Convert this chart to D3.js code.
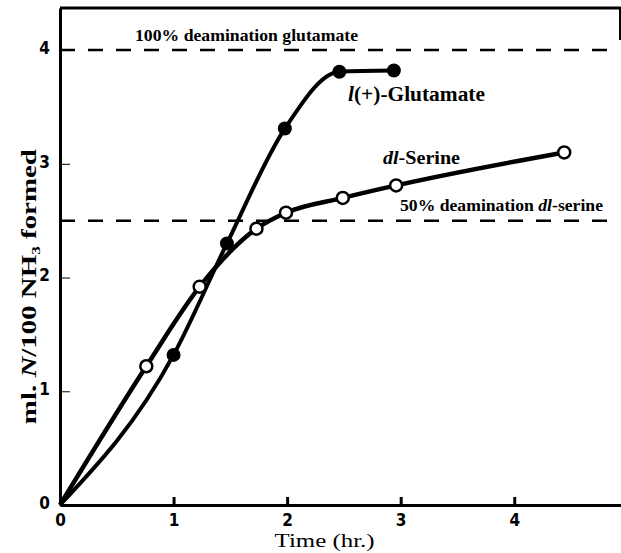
<!DOCTYPE html>
<html>
<head>
<meta charset="utf-8">
<script src="https://cdn.jsdelivr.net/npm/d3@7"></script>
<style>
  body { margin: 0; background: #fff; }
  text { fill: #000; }
  .lbl { font-family: "Liberation Serif", "DejaVu Serif", serif; font-weight: bold; }
  .tick text { font-family: "DejaVu Sans Condensed", "DejaVu Sans", sans-serif; font-weight: bold; font-size: 17px; }
</style>
</head>
<body>
<div id="graphic"></div>
<script>
// glutamate (filled) and serine (open) readings
var glutTime = [0, 1.0, 1.47, 1.98, 2.46, 2.94];
var glutNH3  = [0, 1.32, 2.30, 3.31, 3.81, 3.82];
var serTime  = [0, 0.76, 1.23, 1.73, 1.99, 2.49, 2.96, 4.44];
var serNH3   = [0, 1.22, 1.92, 2.43, 2.57, 2.70, 2.81, 3.10];
var xTicks = [0, 1, 2, 3, 4];
var yTicks = [0, 1, 2, 3, 4];
var refLevels = [4.0, 2.5];

var W = 621, H = 553;
var margin = { top: 8, right: 0, bottom: 48, left: 60 };
var width = W - margin.left - margin.right,
    height = H - margin.top - margin.bottom;

var x = d3.scaleLinear().domain([0, 4.94]).range([0, width]);
var y = d3.scaleLinear().domain([0, 4.37]).range([height, 0]);

var svg = d3.select("#graphic").append("svg")
    .attr("width", W)
    .attr("height", H)
    .append("g")
    .attr("transform", "translate(" + margin.left + "," + margin.top + ")");

// frame top + right
svg.append("line").attr("x1", 0).attr("x2", width).attr("y1", 0).attr("y2", 0)
    .attr("stroke", "#000").attr("stroke-width", 3);
svg.append("line").attr("x1", width - 1).attr("x2", width - 1).attr("y1", 0).attr("y2", 32)
    .attr("stroke", "#000").attr("stroke-width", 2);

// dashed reference lines
svg.selectAll(null)
    .data(refLevels)
    .enter()
    .append("line")
    .attr("x1", 0)
    .attr("x2", width - 8)
    .attr("y1", function(d) { return y(d); })
    .attr("y2", function(d) { return y(d); })
    .attr("stroke", "#000")
    .attr("stroke-width", 2.5)
    .attr("stroke-dasharray", "15,13");

// axes
var xAxis = svg.append("g")
    .attr("transform", "translate(0," + height + ")")
    .call(d3.axisBottom(x).tickValues(xTicks).tickSizeInner(-8).tickSizeOuter(0).tickPadding(9).tickFormat(d3.format("d")));
xAxis.select(".domain").attr("stroke-width", 3);
xAxis.selectAll(".tick line").attr("stroke-width", 3);

var yAxis = svg.append("g")
    .call(d3.axisLeft(y).tickValues(yTicks).tickSizeInner(-10).tickSizeOuter(0).tickPadding(12).tickFormat(d3.format("d")));
yAxis.select(".domain").attr("stroke-width", 3);
yAxis.selectAll(".tick text").attr("dx", 2).attr("dy", "0.2em");

// curves
var glut = glutTime.map(function(t, i) { return [t, glutNH3[i]]; });
var ser = serTime.map(function(t, i) { return [t, serNH3[i]]; });

var line = d3.line()
    .x(function(d) { return x(d[0]); })
    .y(function(d) { return y(d[1]); })
    .curve(d3.curveMonotoneX);

svg.append("path").datum(glut).attr("d", line)
    .attr("fill", "none").attr("stroke", "#000").attr("stroke-width", 4);
svg.append("path").datum(ser).attr("d", line)
    .attr("fill", "none").attr("stroke", "#000").attr("stroke-width", 4.5);

svg.selectAll(null)
    .data(glut.slice(1))
    .enter()
    .append("circle")
    .attr("cx", function(d) { return x(d[0]); })
    .attr("cy", function(d) { return y(d[1]); })
    .attr("r", 7)
    .attr("fill", "#000");

svg.selectAll(null)
    .data(ser.slice(1))
    .enter()
    .append("circle")
    .attr("cx", function(d) { return x(d[0]); })
    .attr("cy", function(d) { return y(d[1]); })
    .attr("r", 6)
    .attr("fill", "#fff")
    .attr("stroke", "#000")
    .attr("stroke-width", 2.5);

// labels
svg.append("text").attr("class", "lbl")
    .attr("x", 75).attr("y", 33).attr("font-size", 17)
    .attr("textLength", 223).attr("lengthAdjust", "spacingAndGlyphs")
    .text("100% deamination glutamate");

var g1 = svg.append("text").attr("class", "lbl")
    .attr("x", 288).attr("y", 93).attr("font-size", 20)
    .attr("textLength", 137).attr("lengthAdjust", "spacingAndGlyphs");
g1.append("tspan").attr("font-style", "italic").text("l");
g1.append("tspan").text("(+)-Glutamate");

var s1 = svg.append("text").attr("class", "lbl")
    .attr("x", 323).attr("y", 156).attr("font-size", 19)
    .attr("textLength", 77).attr("lengthAdjust", "spacingAndGlyphs");
s1.append("tspan").attr("font-style", "italic").text("dl");
s1.append("tspan").text("-Serine");

var s2 = svg.append("text").attr("class", "lbl")
    .attr("x", 340).attr("y", 203).attr("font-size", 17)
    .attr("textLength", 203).attr("lengthAdjust", "spacingAndGlyphs");
s2.append("tspan").text("50% deamination ");
s2.append("tspan").attr("font-style", "italic").text("dl");
s2.append("tspan").text("-serine");

svg.append("text")
    .attr("x", x(2.33)).attr("y", height + 42)
    .attr("font-family", "Liberation Serif, DejaVu Serif, serif")
    .attr("font-size", 18)
    .attr("text-anchor", "middle")
    .attr("textLength", 100).attr("lengthAdjust", "spacingAndGlyphs")
    .text("Time (hr.)");

var yl = svg.append("text").attr("class", "lbl")
    .attr("transform", "translate(-24," + y(1.92) + ") rotate(-90)")
    .attr("text-anchor", "middle").attr("font-size", 20)
    .attr("textLength", 275).attr("lengthAdjust", "spacingAndGlyphs");
yl.append("tspan").text("ml. ");
yl.append("tspan").attr("font-style", "italic").text("N");
yl.append("tspan").text("/100 NH");
yl.append("tspan").attr("font-size", 12).attr("dy", 4).text("3");
yl.append("tspan").attr("dy", -4).text(" formed");
</script>
</body>
</html>
